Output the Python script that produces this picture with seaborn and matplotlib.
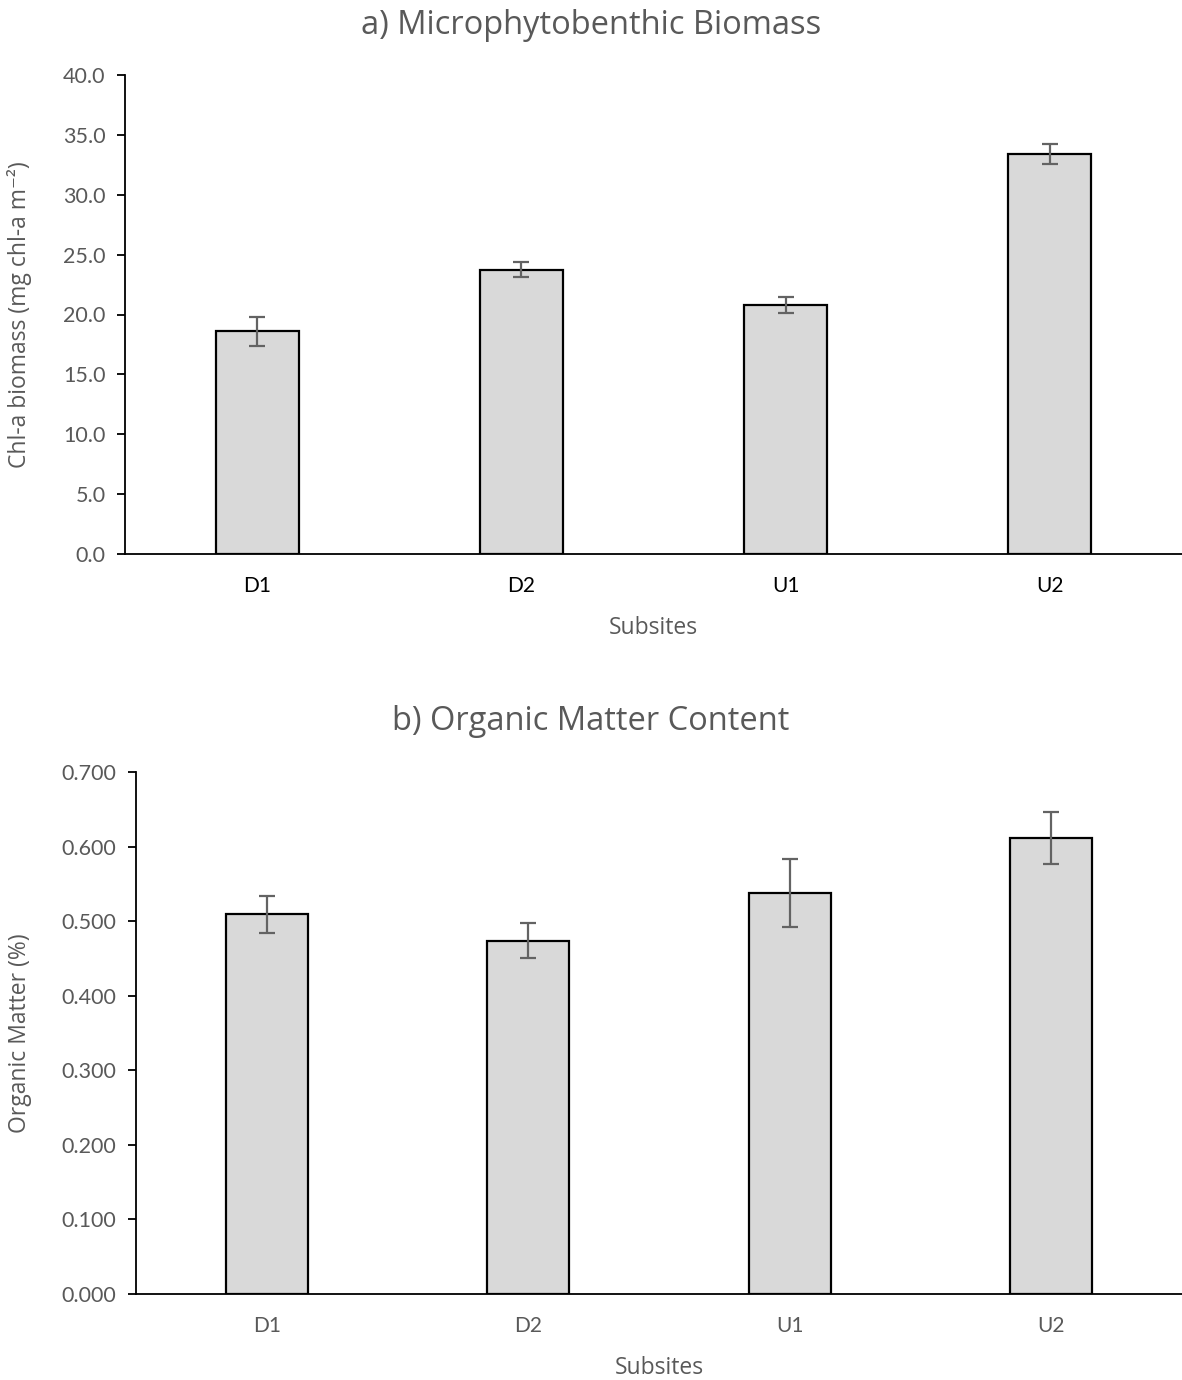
import matplotlib
matplotlib.use("Agg")
import matplotlib.pyplot as plt
import seaborn as sns
import pandas as pd
import numpy as np

subsites = ["D1", "D2", "U1", "U2"]
chla_mean = [18.6, 23.75, 20.8, 33.4]
chla_se = [1.2, 0.6, 0.68, 0.82]
om_mean = [0.509, 0.474, 0.538, 0.611]
om_se = [0.025, 0.023, 0.046, 0.035]
chla_ticks = [0, 5, 10, 15, 20, 25, 30, 35, 40]
om_ticks = [0.0, 0.1, 0.2, 0.3, 0.4, 0.5, 0.6, 0.7]

sns.set_theme(style="white")
plt.rcParams['font.family'] = ['Open Sans', 'DejaVu Sans']

GREY = "#595959"
W, H = 1182, 1380
fig = plt.figure(figsize=(W/100, H/100), dpi=100)

def draw(ax, left_px, means, ses, ticks, fmt, ylabel, title, title_y, ylim, xtick_color):
    df = pd.DataFrame({"Subsite": subsites, "Value": means})
    sns.barplot(data=df, x="Subsite", y="Value", ax=ax, color="#D9D9D9",
                saturation=1, width=0.315, edgecolor="black", linewidth=1.6)
    xs = [p.get_x() + p.get_width()/2 for p in ax.patches]
    ax.errorbar(xs, means, yerr=ses, fmt="none", ecolor="#636363",
                elinewidth=1.6, capsize=6, capthick=1.6, zorder=5)
    ax.set_xlim(-0.5, 3.5)
    ax.set_ylim(*ylim)
    ax.set_yticks(ticks)
    ax.set_yticklabels([fmt.format(t) for t in ticks], fontsize=15.5,
                       color=GREY, family=['Lato', 'DejaVu Sans'])
    ax.set_xticks(range(len(subsites)))
    ax.set_xticklabels(subsites, fontsize=15, color=xtick_color,
                       family=['Lato', 'DejaVu Sans'])
    for s in ["top", "right"]:
        ax.spines[s].set_visible(False)
    for s in ["left", "bottom"]:
        ax.spines[s].set_color("black")
        ax.spines[s].set_linewidth(1.3)
    ax.tick_params(axis="y", which="both", left=True, length=6, width=1.3,
                   color="black", pad=8, direction="out")
    ax.tick_params(axis="x", bottom=False, pad=10)
    ax.set_xlabel("Subsites", fontsize=16.5, color=GREY, labelpad=14)
    ax.set_ylabel(ylabel, fontsize=16.5, color=GREY)
    axw = ax.get_position().width * W
    ax.yaxis.set_label_coords((32 - left_px) / axw, 0.5)
    fig.text(0.5, 1 - title_y / H, title, fontsize=23.5, color=GREY,
             ha="center", va="center")
    ax.grid(False)

ax1 = fig.add_axes([125/W, 1-554/H, (W-125)/W, (554-75)/H])
ax2 = fig.add_axes([136/W, 1-1294/H, (W-136)/W, (1294-772)/H])

draw(ax1, 125, chla_mean, chla_se, chla_ticks, "{:.1f}",
     "Chl-a biomass (mg chl-a m⁻²)", "a) Microphytobenthic Biomass", 26,
     (0, 40), "black")
draw(ax2, 136, om_mean, om_se, om_ticks, "{:.3f}",
     "Organic Matter (%)", "b) Organic Matter Content", 722,
     (0, 0.7), GREY)

fig.savefig("out.png", dpi=100, facecolor="white")
